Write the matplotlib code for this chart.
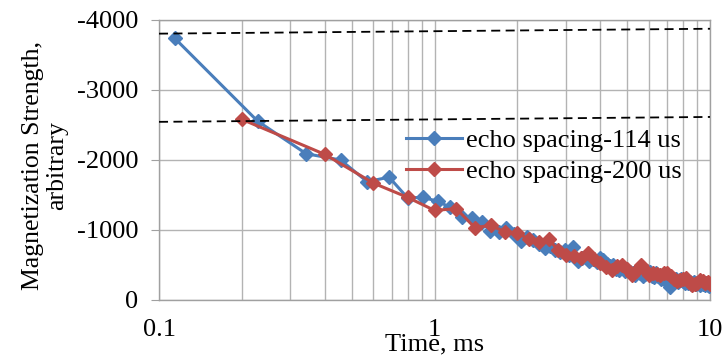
import numpy as np
import matplotlib
matplotlib.use("Agg")
import matplotlib.pyplot as plt
from matplotlib.ticker import FixedLocator, NullFormatter

plt.rcParams["font.family"] = ["Liberation Serif", "DejaVu Serif"]
plt.rcParams["axes.unicode_minus"] = False

# echo spacings (ms) and read-off magnetization values
spacing_a = 0.114
spacing_b = 0.2
label_a = "echo spacing-114 us"
label_b = "echo spacing-200 us"

values_a = [
    -3740, -2555, -2090, -2000, -1690, -1755, -1460, -1465, -1410, -1325,
    -1180, -1170, -1120, -990, -970, -1030, -950, -850, -900, -860,
    -800, -740, -770, -715, -690, -720, -640, -760, -560, -600,
    -610, -560, -580, -540, -600, -570, -520, -480, -500, -450,
    -430, -460, -410, -430, -400, -380, -360, -400, -380, -350,
    -370, -420, -400, -340, -330, -390, -350, -300, -310, -300,
    -270, -250, -190, -260, -290, -300, -260, -280, -300, -270,
    -250, -270, -240, -260, -230, -240, -260, -230, -250, -240,
    -220, -250, -230, -210, -240, -220, -200,
]
values_b = [
    -2580, -2080, -1670, -1465, -1280, -1305, -1035, -1065, -975, -955,
    -870, -830, -865, -720, -645, -630, -600, -665, -590, -525,
    -470, -430, -490, -500, -450, -360, -420, -500, -430, -360,
    -380, -370, -360, -385, -380, -340, -300, -270, -290, -300,
    -310, -260, -215, -230, -250, -280, -265, -245, -255, -230,
]

# hand-drawn dashed guide lines (end points)
guide_t = [0.1, 10]
guide_upper = [-3805, -3875]
guide_lower = [-2545, -2615]

time_a = spacing_a * np.arange(1, len(values_a) + 1)
time_b = spacing_b * np.arange(1, len(values_b) + 1)

blue = "#4A7EBB"
red = "#BE4B48"
grid_c = "#B3B3B3"

fig = plt.figure(figsize=(7.27, 3.6), dpi=100)
ax = fig.add_axes([159 / 727, 60 / 360, 551 / 727, 280 / 360])

ax.plot(time_a, values_a, color=blue, lw=2.2, marker="D", ms=7, label=label_a, zorder=3)
ax.plot(time_b, values_b, color=red, lw=2.2, marker="D", ms=7, label=label_b, zorder=4)
ax.plot(guide_t, guide_upper, color="black", lw=1.3, ls=(0, (5, 3)), zorder=5)
ax.plot(guide_t, guide_lower, color="black", lw=1.3, ls=(0, (5, 3)), zorder=5)

ax.set_xscale("log")
ax.set_xlim(0.1, 10)
ax.set_ylim(0, -4000)
ax.xaxis.set_major_locator(FixedLocator([0.1, 1, 10]))
ax.xaxis.set_minor_locator(FixedLocator([m * d for d in (0.1, 1) for m in range(2, 10)]))
ax.xaxis.set_minor_formatter(NullFormatter())
ax.set_xticklabels(["0.1", "1", "10"])
ax.set_yticks([0, -1000, -2000, -3000, -4000])
ax.set_yticklabels(["0", "-1000", "-2000", "-3000", "-4000"])

ax.grid(True, which="both", axis="x", color=grid_c, lw=1.0)
ax.grid(True, which="major", axis="y", color=grid_c, lw=1.0)
ax.set_axisbelow(True)
for s in ax.spines.values():
    s.set_color("#A0A0A0")
    s.set_linewidth(1.0)

ax.tick_params(axis="y", which="major", length=6, color="#A0A0A0", pad=9, labelsize=19)
ax.tick_params(axis="x", which="both", length=0, pad=14, labelsize=19)

ax.set_xlabel("Time, ms", fontsize=19)
ax.xaxis.set_label_coords(0.5, -0.12)
ax.set_ylabel("Magnetization Strength,\narbitrary", fontsize=18.5, linespacing=1.1)
ax.yaxis.set_label_coords(-0.165, 0.48)

ax.legend(loc="center left", bbox_to_anchor=(0.449, 0.515), frameon=False,
          fontsize=19, handlelength=2.1, handletextpad=0.15, labelspacing=0.3,
          borderpad=0, borderaxespad=0)

fig.savefig("out.png", dpi=100)
